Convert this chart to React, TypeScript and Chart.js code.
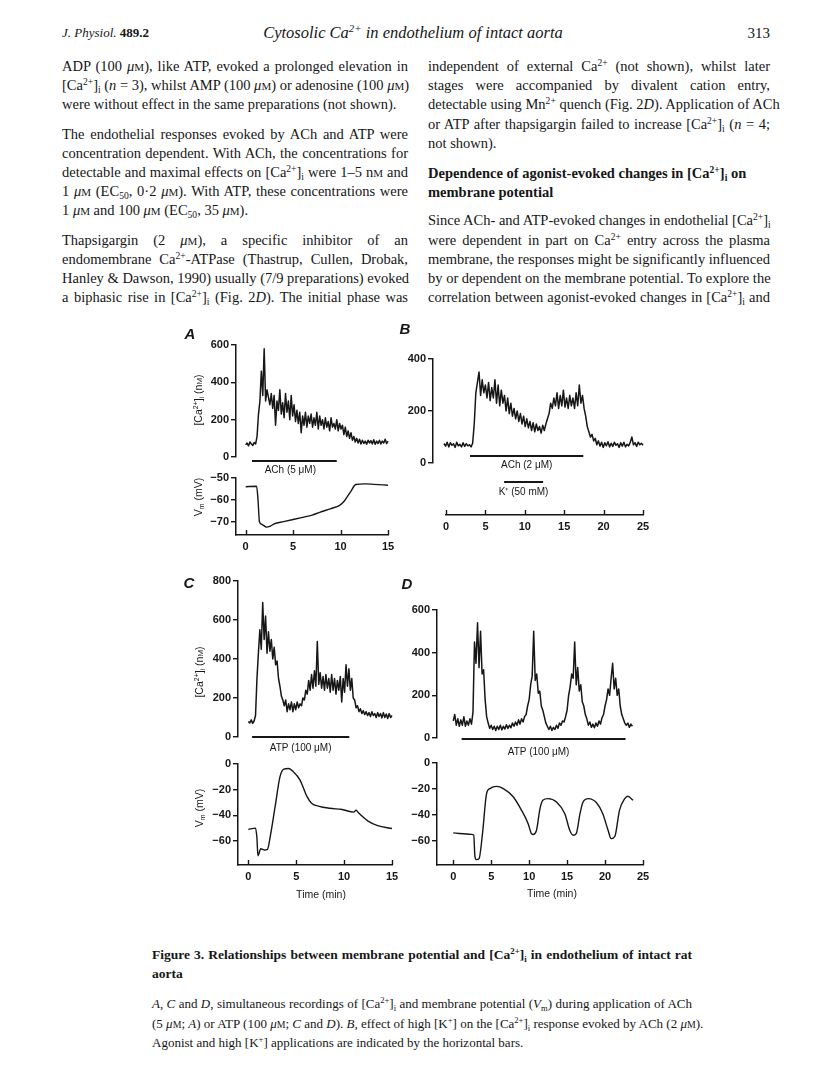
import React, { useEffect, useRef } from 'react';
import { Chart, registerables } from 'chart.js';

Chart.register(...registerables);

const INK = '#161616';
const FIG_FONT = '"Liberation Sans", Arial, sans-serif';
const TEXT_FONT = '"Liberation Serif", "Times New Roman", serif';

// ---------------- Panel A : ACh 5 uM ----------------
const caAStep = 0.15; // min between samples
const caAValues = [
  65, 75, 60, 80, 70, 62, 78, 70, 110, 230,
  300, 460, 330, 580, 300, 360, 320, 280, 340, 260,
  330, 170, 300, 250, 360, 230, 290, 210, 340, 240,
  300, 200, 330, 220, 280, 190, 250, 180, 240, 130,
  220, 170, 240, 160, 220, 180, 230, 160, 210, 170,
  240, 150, 220, 170, 200, 150, 210, 160, 190, 140,
  210, 160, 180, 150, 200, 140, 180, 150, 170, 120,
  160, 110, 140, 100, 130, 90, 110, 80, 100, 75,
  95, 70, 90, 72, 85, 68, 90, 75, 88, 70,
  92, 68, 85, 72, 90, 70, 85, 75, 95, 72,
  85, 78,
];
const vmATimes = [0, 1.15, 1.3, 1.45, 1.7, 2.2, 2.6, 3.0, 4, 5, 6, 7, 7.8, 9, 9.9, 10.4, 10.8, 11.1, 11.6, 12.6, 13.5, 15];
const vmAValues = [-54, -53.8, -60, -70, -71.2, -72.5, -72, -71, -70, -69, -68, -67, -65.7, -64, -62.5, -60.5, -58, -56, -53, -52.7, -52.9, -53.3];
const aCaTicks = [0, 200, 400, 600];
const aVmTicks = [-70, -60, -50];
const aTimeTicks = [0, 5, 10, 15];
const aAChSpan = [0.66, 9.6];

// ---------------- Panel B : ACh 2 uM + K+ 50 mM ----------------
const caBStep = 0.2;
const caBValues = [
  75, 65, 80, 62, 78, 68, 74, 60, 80, 66,
  72, 62, 78, 64, 74, 66, 70, 62, 76, 150,
  270, 310, 350, 260, 320, 270, 300, 250, 310, 240,
  290, 250, 320, 230, 300, 220, 280, 230, 260, 200,
  250, 190, 230, 180, 210, 170, 200, 160, 190, 150,
  180, 140, 170, 135, 160, 125, 155, 120, 150, 125,
  140, 115, 145, 125, 150, 170, 190, 230, 210, 250,
  220, 270, 210, 260, 220, 280, 215, 250, 210, 260,
  220, 250, 210, 270, 220, 300, 230, 260, 210, 180,
  140, 120, 100, 110, 85, 95, 70, 85, 65, 80,
  60, 78, 66, 82, 62, 76, 64, 80, 68, 74,
  60, 78, 65, 80, 62, 72, 66, 80, 100, 70,
  78, 64, 80, 70, 76, 68,
];
const bCaTicks = [0, 200, 400];
const bTimeTicks = [0, 5, 10, 15, 20, 25];
const bAChSpan = [3.27, 17.5];
const bKSpan = [7.55, 12.45];

// ---------------- Panel C : ATP 100 uM ----------------
const caCStep = 0.15;
const caCValues = [
  80, 72, 88, 70, 82, 110, 300, 430, 550, 450,
  690, 500, 620, 430, 540, 440, 500, 400, 460, 370,
  390, 300, 260, 210, 190, 160, 190, 130, 170, 140,
  180, 130, 170, 140, 180, 150, 170, 160, 200, 190,
  240, 220, 290, 240, 320, 250, 340, 260, 490, 270,
  330, 250, 310, 240, 320, 250, 300, 230, 320, 240,
  300, 220, 290, 240, 310, 180, 300, 230, 370, 260,
  350, 240, 300, 200, 190, 150, 160, 130, 145, 120,
  135, 115, 130, 110, 125, 105, 130, 110, 120, 100,
  125, 105, 120, 98, 125, 100, 118, 95, 120, 100,
  110,
];
const vmCTimes = [0, 0.75, 0.9, 1.0, 1.3, 1.7, 2.0, 2.3, 2.8, 3.3, 3.7, 4.2, 4.7, 5.4, 6.1, 6.6, 7.4, 8.5, 9.8, 11.0, 11.25, 11.5, 12.5, 13.5, 15];
const vmCValues = [-51, -50, -58, -71.5, -66, -67, -66.5, -56, -33, -10, -4, -3.5, -6, -12.5, -25, -30.5, -33, -34.5, -35.5, -37.5, -36, -38, -44.5, -48, -50.3];
const cCaTicks = [0, 200, 400, 600, 800];
const cVmTicks = [-60, -40, -20, 0];
const cTimeTicks = [0, 5, 10, 15];
const cATPSpan = [0.39, 10.54];

// ---------------- Panel D : ATP 100 uM (oscillations) ----------------
const caDStep = 0.2;
const caDValues = [
  80, 110, 60, 90, 55, 85, 60, 100, 55, 80,
  60, 90, 65, 120, 450, 350, 540, 330, 500, 300,
  320, 180, 100, 70, 45, 60, 40, 55, 35, 55,
  40, 60, 38, 55, 42, 62, 45, 60, 48, 70,
  55, 75, 60, 85, 65, 90, 75, 100, 110, 150,
  180, 250, 290, 500, 270, 300, 210, 220, 150, 130,
  100, 70, 55, 40, 55, 35, 50, 40, 60, 45,
  70, 60, 80, 75, 100, 130, 200, 240, 300, 280,
  450, 250, 330, 220, 250, 170, 150, 110, 90, 60,
  75, 50, 65, 48, 70, 55, 80, 65, 95, 110,
  150, 180, 230, 200, 280, 350, 230, 280, 200, 230,
  150, 110, 90, 70, 60, 70, 50, 65, 55,
];
const vmDTimes = [0, 2.4, 2.7, 2.86, 3.07, 3.4, 3.86, 4.39, 4.83, 5.7, 6.6, 7.9, 9.0, 9.87, 10.3, 10.5, 10.97, 11.4, 11.8, 12.5, 13.6, 14.7, 15.35, 15.8, 16.2, 16.7, 17.1, 17.8, 18.9, 19.7, 20.4, 20.8, 21.3, 21.9, 22.6, 23.0, 23.7];
const vmDValues = [-53.8, -54.9, -55.5, -72, -74.4, -73.6, -54, -23.6, -19.7, -18, -19.7, -26, -36.4, -46.7, -54.4, -55, -51.8, -36, -28.7, -27.4, -30, -39, -51.8, -55.6, -54.4, -39, -30, -27.4, -30.8, -39, -51.8, -58.2, -56.4, -36.4, -27.4, -25.6, -28.7];
const dCaTicks = [0, 200, 400, 600];
const dVmTicks = [-60, -40, -20, 0];
const dTimeTicks = [0, 5, 10, 15, 20, 25];
const dATPSpan = [1.1, 22.7];

// ---------------- helpers ----------------
type Pt = { x: number; y: number };
const sampled = (step: number, vals: number[]): Pt[] => vals.map((v, i) => ({ x: +(i * step).toFixed(3), y: v }));
const paired = (ts: number[], vs: number[]): Pt[] => ts.map((t, i) => ({ x: t, y: vs[i] }));

type Bar = { span: number[]; label: string; dy: number; labelDy: number; labelDx?: number };
type Spec = {
  area: [number, number, number, number];
  x: [number, number];
  y: [number, number];
  xTicks?: number[];
  yTicks?: number[];
  lines: { pts: Pt[]; smooth: boolean; width: number }[];
  bars?: Bar[];
  padB: number;
};

const PADL = 6;
const PADT = 10;
const PADR = 14;

const figMarks = {
  id: 'figMarks',
  afterDraw(chart: any, _args: any, opts: any) {
    const { ctx, chartArea, scales } = chart;
    const xs = scales.x;
    ctx.save();
    ctx.strokeStyle = INK;
    ctx.fillStyle = INK;
    if (opts.ticksUp) {
      ctx.lineWidth = 1.4;
      for (const t of xs.ticks) {
        const px = Math.round(xs.getPixelForValue(t.value)) + 0.5;
        ctx.beginPath();
        ctx.moveTo(px, chartArea.bottom);
        ctx.lineTo(px, chartArea.bottom - 5);
        ctx.stroke();
      }
    }
    for (const b of opts.bars || []) {
      const x1 = xs.getPixelForValue(b.span[0]);
      const x2 = xs.getPixelForValue(b.span[1]);
      const y = chartArea.bottom + b.dy;
      ctx.lineWidth = 2;
      ctx.beginPath();
      ctx.moveTo(x1, y);
      ctx.lineTo(x2, y);
      ctx.stroke();
      ctx.font = `10px ${FIG_FONT}`;
      ctx.textAlign = 'center';
      ctx.textBaseline = 'middle';
      ctx.fillText(b.label, (x1 + x2) / 2 + (b.labelDx || 0), chartArea.bottom + b.labelDy);
    }
    ctx.restore();
  },
};

const fmt = (v: any) => (Number(v) < 0 ? '\u2212' + Math.abs(Number(v)) : String(v));

function TraceChart({ spec }: { spec: Spec }) {
  const ref = useRef<HTMLCanvasElement>(null);
  const yW = spec.yTicks ? 42 : 0;
  const xH = spec.xTicks ? 22 : 0;
  const [l, t, r, b] = spec.area;
  const w = Math.round(r - l + yW + PADL + PADR);
  const h = Math.round(b - t + PADT + spec.padB + xH);
  const left = l - yW - PADL;
  const top = t - PADT;
  useEffect(() => {
    const tickFont = { family: FIG_FONT, size: 11, weight: 'bold' as const };
    const chart = new Chart(ref.current as HTMLCanvasElement, {
      type: 'line',
      data: {
        datasets: spec.lines.map((ln) => ({
          data: ln.pts,
          borderColor: INK,
          borderWidth: ln.width,
          pointRadius: 0,
          tension: 0,
          cubicInterpolationMode: ln.smooth ? 'monotone' : 'default',
          fill: false,
          clip: false as any,
          borderJoinStyle: 'round',
        })) as any,
      },
      options: {
        responsive: false,
        animation: false,
        devicePixelRatio: 1,
        events: [],
        layout: { padding: { left: PADL, top: PADT, right: PADR, bottom: spec.padB } },
        plugins: {
          legend: { display: false },
          tooltip: { enabled: false },
          figMarks: { ticksUp: !!spec.xTicks, bars: spec.bars || [] },
        } as any,
        scales: {
          x: {
            type: 'linear',
            min: spec.x[0],
            max: spec.x[1],
            display: !!spec.xTicks,
            afterBuildTicks: (s: any) => {
              if (spec.xTicks) s.ticks = spec.xTicks.map((v) => ({ value: v }));
            },
            afterFit: (s: any) => {
              s.height = xH;
            },
            grid: { display: true, drawOnChartArea: false, drawTicks: false },
            border: { display: true, color: INK, width: 1.5 },
            ticks: { color: INK, padding: 5, font: tickFont, maxRotation: 0, autoSkip: false, callback: fmt },
          },
          y: {
            type: 'linear',
            min: spec.y[0],
            max: spec.y[1],
            display: !!spec.yTicks,
            afterBuildTicks: (s: any) => {
              if (spec.yTicks) s.ticks = spec.yTicks.map((v) => ({ value: v }));
            },
            afterFit: (s: any) => {
              s.width = yW;
            },
            grid: { display: true, drawOnChartArea: false, drawTicks: true, tickLength: 5, color: INK, lineWidth: 1.4 },
            border: { display: true, color: INK, width: 1.5 },
            ticks: { color: INK, padding: 2, font: tickFont, autoSkip: false, callback: fmt },
          },
        },
      } as any,
      plugins: [figMarks],
    });
    return () => chart.destroy();
  }, []);
  return (
    <canvas
      ref={ref}
      width={w}
      height={h}
      style={{ position: 'absolute', left, top, width: w, height: h }}
    />
  );
}

// ---------------- chart specs ----------------
const specs: Spec[] = [
  {
    area: [236, 345, 388.3, 457],
    x: [-1.02, 15],
    y: [0, 600],
    yTicks: aCaTicks,
    lines: [{ pts: sampled(caAStep, caAValues), smooth: false, width: 1.5 }],
    bars: [{ span: aAChSpan, label: 'ACh (5 \u03bcM)', dy: 4, labelDy: 13, labelDx: -4 }],
    padB: 26,
  },
  {
    area: [236, 478.3, 388.3, 535],
    x: [-1.02, 15],
    y: [-76.1, -50],
    yTicks: aVmTicks,
    xTicks: aTimeTicks,
    lines: [{ pts: paired(vmATimes, vmAValues), smooth: true, width: 1.4 }],
    padB: 4,
  },
  {
    area: [433, 359, 642.7, 463],
    x: [-1.38, 25],
    y: [0, 400],
    yTicks: bCaTicks,
    lines: [{ pts: sampled(caBStep, caBValues), smooth: false, width: 1.5 }],
    bars: [
      { span: bAChSpan, label: 'ACh (2 \u03bcM)', dy: -7, labelDy: 2 },
      { span: bKSpan, label: 'K\u207a (50 mM)', dy: 19, labelDy: 29 },
    ],
    padB: 40,
  },
  {
    area: [444, 495, 642.7, 515],
    x: [0, 25],
    y: [0, 1],
    xTicks: bTimeTicks,
    lines: [{ pts: [], smooth: false, width: 1 }],
    padB: 4,
  },
  {
    area: [238, 581, 391.7, 737],
    x: [-1.08, 15],
    y: [0, 800],
    yTicks: cCaTicks,
    lines: [{ pts: sampled(caCStep, caCValues), smooth: false, width: 1.5 }],
    bars: [{ span: cATPSpan, label: 'ATP (100 \u03bcM)', dy: 0, labelDy: 11 }],
    padB: 24,
  },
  {
    area: [238, 764, 391.7, 865],
    x: [-1.08, 15],
    y: [-78.7, 0],
    yTicks: cVmTicks,
    xTicks: cTimeTicks,
    lines: [{ pts: paired(vmCTimes, vmCValues), smooth: true, width: 1.4 }],
    padB: 4,
  },
  {
    area: [437, 610, 643.3, 738],
    x: [-2.14, 25],
    y: [0, 600],
    yTicks: dCaTicks,
    lines: [{ pts: sampled(caDStep, caDValues), smooth: false, width: 1.5 }],
    bars: [{ span: dATPSpan, label: 'ATP (100 \u03bcM)', dy: 1, labelDy: 14, labelDx: -5 }],
    padB: 26,
  },
  {
    area: [437, 763, 643.3, 865],
    x: [-2.14, 25],
    y: [-78.5, 0],
    yTicks: dVmTicks,
    xTicks: dTimeTicks,
    lines: [{ pts: paired(vmDTimes, vmDValues), smooth: true, width: 1.4 }],
    padB: 4,
  },
];

// ---------------- text helpers ----------------
const Sup = ({ children }: any) => (
  <span style={{ fontSize: '0.66em', position: 'relative', top: '-0.55em' }}>{children}</span>
);
const Sub = ({ children }: any) => (
  <span style={{ fontSize: '0.66em', position: 'relative', top: '0.3em' }}>{children}</span>
);
const SC = ({ children }: any) => <span style={{ fontSize: '0.76em' }}>{children}</span>;
const CaI = () => (
  <>
    [Ca<Sup>2+</Sup>]<Sub>i</Sub>
  </>
);
const UM = () => (
  <>
    <i>μ</i>
    <SC>M</SC>
  </>
);

function TL({ x, y, w, j = true, size = 14.5, bold = false, children }: any) {
  return (
    <div
      style={{
        position: 'absolute',
        left: x,
        top: y - 10,
        width: w,
        height: 20,
        lineHeight: '20px',
        fontSize: size,
        fontFamily: TEXT_FONT,
        fontWeight: bold ? 'bold' : 'normal',
        whiteSpace: 'nowrap',
        textAlign: j ? 'justify' : 'left',
        textAlignLast: j ? 'justify' : 'left',
        color: INK,
      } as any}
    >
      {children}
    </div>
  );
}

function Lab({ x, y, size = 10.5, rotate = false, style = {}, children }: any) {
  return (
    <div
      style={{
        position: 'absolute',
        left: x,
        top: y,
        transform: `translate(-50%, -50%)${rotate ? ' rotate(-90deg)' : ''}`,
        whiteSpace: 'nowrap',
        fontFamily: FIG_FONT,
        fontSize: size,
        lineHeight: 1,
        color: INK,
        ...style,
      }}
    >
      {children}
    </div>
  );
}

const LX = 62;
const LW = 346;
const RX = 428;
const RW = 342;
const CX = 152;
const CW = 540;

export default function App() {
  return (
    <div
      style={{
        position: 'absolute',
        left: 0,
        top: 0,
        width: 816,
        height: 1066,
        background: '#fff',
        overflow: 'hidden',
        color: INK,
      }}
    >
      {/* header */}
      <div style={{ position: 'absolute', left: 62, top: 24, fontFamily: TEXT_FONT, fontSize: 13, lineHeight: '18px' }}>
        <i>J. Physiol.</i> <b>489.2</b>
      </div>
      <div
        style={{
          position: 'absolute',
          left: 0,
          width: 826,
          top: 23,
          textAlign: 'center',
          fontFamily: TEXT_FONT,
          fontStyle: 'italic',
          fontSize: 16.5,
          lineHeight: '20px',
        }}
      >
        Cytosolic Ca<Sup>2+</Sup> in endothelium of intact aorta
      </div>
      <div style={{ position: 'absolute', right: 46, top: 24, fontFamily: TEXT_FONT, fontSize: 15, lineHeight: '18px' }}>313</div>

      {/* left column */}
      <TL x={LX} y={66} w={LW}>ADP (100 <UM />), like ATP, evoked a prolonged elevation in</TL>
      <TL x={LX} y={85} w={LW}>
        <CaI /> (<i>n</i> = 3), whilst AMP (100 <UM />) or adenosine (100 <UM />)
      </TL>
      <TL x={LX} y={104} w={LW} j={false}>were without effect in the same preparations (not shown).</TL>
      <TL x={LX} y={134} w={LW}>The endothelial responses evoked by ACh and ATP were</TL>
      <TL x={LX} y={153} w={LW}>concentration dependent. With ACh, the concentrations for</TL>
      <TL x={LX} y={172} w={LW}>
        detectable and maximal effects on <CaI /> were 1–5 n<SC>M</SC> and
      </TL>
      <TL x={LX} y={191} w={LW}>
        1 <UM /> (EC<Sub>50</Sub>, 0·2 <UM />). With ATP, these concentrations were
      </TL>
      <TL x={LX} y={210} w={LW} j={false}>
        1 <UM /> and 100 <UM /> (EC<Sub>50</Sub>, 35 <UM />).
      </TL>
      <TL x={LX} y={240} w={LW}>Thapsigargin (2 <UM />), a specific inhibitor of an</TL>
      <TL x={LX} y={259} w={LW}>
        endomembrane Ca<Sup>2+</Sup>-ATPase (Thastrup, Cullen, Drobak,
      </TL>
      <TL x={LX} y={278} w={LW}>Hanley &amp; Dawson, 1990) usually (7/9 preparations) evoked</TL>
      <TL x={LX} y={297} w={LW}>
        a biphasic rise in <CaI /> (Fig. 2<i>D</i>). The initial phase was
      </TL>

      {/* right column */}
      <TL x={RX} y={66} w={RW}>
        independent of external Ca<Sup>2+</Sup> (not shown), whilst later
      </TL>
      <TL x={RX} y={85} w={RW}>stages were accompanied by divalent cation entry,</TL>
      <TL x={RX} y={104} w={RW}>
        detectable using Mn<Sup>2+</Sup> quench (Fig. 2<i>D</i>). Application of ACh
      </TL>
      <TL x={RX} y={124} w={RW}>
        or ATP after thapsigargin failed to increase <CaI /> (<i>n</i> = 4;
      </TL>
      <TL x={RX} y={143} w={RW} j={false}>not shown).</TL>
      <TL x={RX} y={173} w={RW} j={false} bold>
        Dependence of agonist-evoked changes in <CaI /> on
      </TL>
      <TL x={RX} y={192} w={RW} j={false} bold>membrane potential</TL>
      <TL x={RX} y={220} w={RW}>
        Since ACh- and ATP-evoked changes in endothelial <CaI />
      </TL>
      <TL x={RX} y={240} w={RW}>
        were dependent in part on Ca<Sup>2+</Sup> entry across the plasma
      </TL>
      <TL x={RX} y={259} w={RW}>membrane, the responses might be significantly influenced</TL>
      <TL x={RX} y={278} w={RW}>by or dependent on the membrane potential. To explore the</TL>
      <TL x={RX} y={297} w={RW}>
        correlation between agonist-evoked changes in <CaI /> and
      </TL>

      {/* charts */}
      {specs.map((s, i) => (
        <TraceChart key={i} spec={s} />
      ))}

      {/* panel letters */}
      <Lab x={190} y={333} size={15} style={{ fontWeight: 'bold', fontStyle: 'italic' }}>A</Lab>
      <Lab x={405} y={328} size={15} style={{ fontWeight: 'bold', fontStyle: 'italic' }}>B</Lab>
      <Lab x={189} y={582} size={15} style={{ fontWeight: 'bold', fontStyle: 'italic' }}>C</Lab>
      <Lab x={407} y={583} size={15} style={{ fontWeight: 'bold', fontStyle: 'italic' }}>D</Lab>

      {/* axis titles */}
      <Lab x={198} y={400} rotate>
        [Ca<Sup>2+</Sup>]<Sub>i</Sub> (n<SC>M</SC>)
      </Lab>
      <Lab x={198} y={497} rotate>
        V<Sub>m</Sub> (mV)
      </Lab>
      <Lab x={199} y={672} rotate>
        [Ca<Sup>2+</Sup>]<Sub>i</Sub> (n<SC>M</SC>)
      </Lab>
      <Lab x={199} y={808} rotate>
        V<Sub>m</Sub> (mV)
      </Lab>
      <Lab x={321} y={894}>Time (min)</Lab>
      <Lab x={552} y={893}>Time (min)</Lab>

      {/* caption */}
      <TL x={CX} y={955} w={CW} size={13.5} bold>
        Figure 3. Relationships between membrane potential and <CaI /> in endothelium of intact rat
      </TL>
      <TL x={CX} y={974} w={CW} size={13.5} bold j={false}>aorta</TL>
      <TL x={CX} y={1004} w={CW} size={13}>
        <i>A</i>, <i>C</i> and <i>D</i>, simultaneous recordings of <CaI /> and membrane potential (<i>V</i>
        <Sub>m</Sub>) during application of ACh
      </TL>
      <TL x={CX} y={1024} w={CW} size={13}>
        (5 <UM />; <i>A</i>) or ATP (100 <UM />; <i>C</i> and <i>D</i>). <i>B</i>, effect of high [K<Sup>+</Sup>] on the{' '}
        <CaI /> response evoked by ACh (2 <UM />).
      </TL>
      <TL x={CX} y={1043} w={CW} size={13} j={false}>
        Agonist and high [K<Sup>+</Sup>] applications are indicated by the horizontal bars.
      </TL>
    </div>
  );
}
